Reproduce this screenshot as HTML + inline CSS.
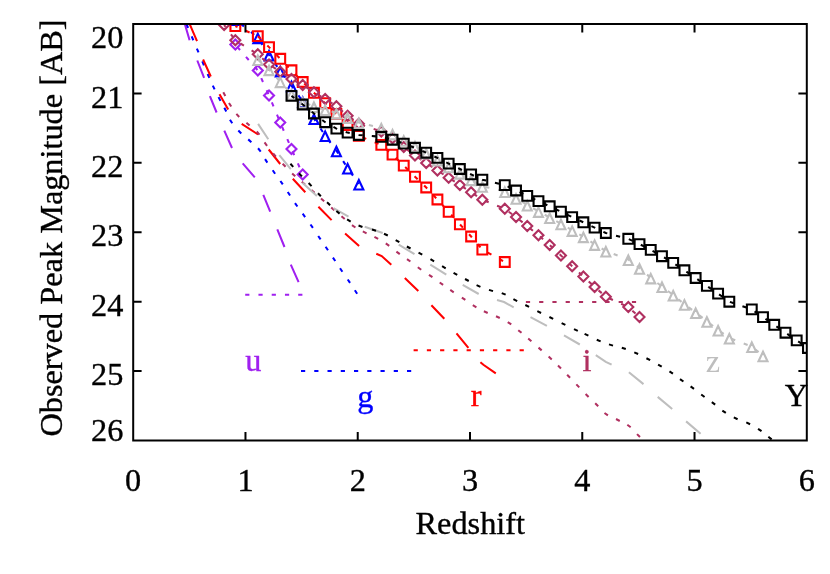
<!DOCTYPE html>
<html>
<head>
<meta charset="utf-8">
<title>Observed Peak Magnitude vs Redshift</title>
<style>
html,body{margin:0;padding:0;background:#fff;}
body{width:830px;height:574px;overflow:hidden;font-family:"Liberation Serif",serif;}
svg{display:block;opacity:0.999;will-change:transform;}
</style>
</head>
<body>
<svg width="830" height="574" viewBox="0 0 830 574">
<defs><clipPath id="pc"><rect x="133.2" y="24" width="673.6" height="416.5"/></clipPath></defs>
<rect width="830" height="574" fill="#fff"/>
<g clip-path="url(#pc)">
<path d="M184.8 23.9 L189.6 40.2 M197.3 60.5 L204.1 77.8 M209.9 96.1 L216.6 112.5 M224.3 130.6 L232 148 M242.7 163.4 L254.8 177.4 M263.3 194.8 L270.2 211.6 M277.3 229.3 L284.5 247 M290.8 264.7 L298.6 282.1" fill="none" stroke="#a020f0" stroke-width="2.05"/>
<path d="M245.2 294.8 H302.5" fill="none" stroke="#a020f0" stroke-width="2.05" stroke-dasharray="4.2 9.05"/>
<path d="M235.34 44.6 L257.8 70.4 L269.02 95.6 L280.25 122.5 L291.48 148.9 L302.71 174.4" fill="none" stroke="#a020f0" stroke-width="2.05" stroke-dasharray="4.2 9.05" stroke-dashoffset="10.29"/>
<path d="M235.34 39.6L240.34 44.6L235.34 49.6L230.34 44.6z M257.8 65.4L262.8 70.4L257.8 75.4L252.8 70.4z M269.02 90.6L274.02 95.6L269.02 100.6L264.02 95.6z M280.25 117.5L285.25 122.5L280.25 127.5L275.25 122.5z M291.48 143.9L296.48 148.9L291.48 153.9L286.48 148.9z M302.71 169.4L307.71 174.4L302.71 179.4L297.71 174.4z" fill="none" stroke="#a020f0" stroke-width="2.1" stroke-linejoin="miter"/>
<path d="M186.48 24.07 L188.12 27.93 M191.68 36.37 L193.32 40.23 M196.88 48.57 L198.52 52.43 M202.28 61.47 L203.92 65.33 M207.65 73.98 L209.35 77.82 M212.8 85.6 L214.6 89.4 M218.52 97.14 L220.48 100.86 M224.34 107.73 L226.26 111.47 M229.96 119.74 L232.24 123.26 M238.34 130.49 L241.26 133.51 M248.25 139.38 L251.35 142.22 M258.07 148.27 L260.73 151.53 M265.05 159.14 L267.35 162.66 M272.69 170.28 L275.11 173.72 M280.41 180.97 L282.79 184.43 M287.74 192.05 L290.06 195.55 M295 203.08 L297.4 206.52 M302.67 213.7 L305.13 217.1 M310.5 224.48 L312.9 227.92 M318.22 235.96 L320.58 239.44 M325.62 246.76 L327.98 250.24 M332.93 257.56 L335.27 261.04 M340.02 268.26 L342.38 271.74 M347.73 279.46 L350.07 282.94 M354.85 290.25 L357.15 293.75" fill="none" stroke="#0000ff" stroke-width="2.05"/>
<path d="M301 370.9 H412" fill="none" stroke="#0000ff" stroke-width="2.05" stroke-dasharray="4.2 9.05"/>
<path d="M235.34 19.4 L257.8 37.6 L269.02 55 L280.25 71 L291.48 85.7 L302.71 101.5 L313.93 118.5 L325.16 135.5 L336.39 150.7 L347.61 168 L358.84 184" fill="none" stroke="#0000ff" stroke-width="2.05" stroke-dasharray="4.2 9.05" stroke-dashoffset="6.38"/>
<path d="M235.34 15.43L239.84 24.93L230.84 24.93z M257.8 33.63L262.3 43.13L253.3 43.13z M269.02 51.03L273.52 60.53L264.52 60.53z M280.25 67.03L284.75 76.53L275.75 76.53z M291.48 81.73L295.98 91.23L286.98 91.23z M302.71 97.53L307.21 107.03L298.21 107.03z M313.93 114.53L318.43 124.03L309.43 124.03z M325.16 131.53L329.66 141.03L320.66 141.03z M336.39 146.73L340.89 156.23L331.89 156.23z M347.61 164.03L352.11 173.53L343.11 173.53z M358.84 180.03L363.34 189.53L354.34 189.53z" fill="none" stroke="#0000ff" stroke-width="2.1" stroke-linejoin="miter" stroke-miterlimit="10"/>
<path d="M189.6 23.9 L197 41.2 M203.1 59.5 L210.8 76.5 M219.5 94.2 L228.2 109.6 M241.7 123.9 L258.1 134.5 M268.7 149.5 L280.2 164 M292.8 178.8 L305.3 192.3 M318.4 206.7 L331.6 220.1 M345.1 233.6 L359.1 246.1 M376.3 253.8 L381.7 256.1 L391.3 264.8 M404.8 278 L418.3 291.1 M431.4 305.3 L444.3 318.8 M456.5 333.3 L468.4 347.9 M480.4 362.2 L483.4 364.8 L495.8 373.3" fill="none" stroke="#ff0000" stroke-width="2.05"/>
<path d="M413.6 350.3 H524" fill="none" stroke="#ff0000" stroke-width="2.05" stroke-dasharray="4.2 9.05"/>
<path d="M235.34 26.1 L257.8 36.1 L269.02 47.1 L280.25 58.8 L291.48 70.3 L302.71 82 L313.93 92.8 L325.16 103.2 L336.39 114 L347.61 125 L358.84 135.9 L381.29 144.9 L392.52 154.6 L403.75 165.6 L414.98 176.7 L426.2 187.5 L437.43 199.5 L448.66 211.8 L459.88 224.3 L471.11 236.5 L482.34 249.6 L504.79 262" fill="none" stroke="#ff0000" stroke-width="2.05" stroke-dasharray="4.2 9.05" stroke-dashoffset="1.84"/>
<path d="M230.44 21.2h9.8v9.8h-9.8z M252.9 31.2h9.8v9.8h-9.8z M264.12 42.2h9.8v9.8h-9.8z M275.35 53.9h9.8v9.8h-9.8z M286.58 65.4h9.8v9.8h-9.8z M297.81 77.1h9.8v9.8h-9.8z M309.03 87.9h9.8v9.8h-9.8z M320.26 98.3h9.8v9.8h-9.8z M331.49 109.1h9.8v9.8h-9.8z M342.71 120.1h9.8v9.8h-9.8z M353.94 131h9.8v9.8h-9.8z M376.39 140h9.8v9.8h-9.8z M387.62 149.7h9.8v9.8h-9.8z M398.85 160.7h9.8v9.8h-9.8z M410.08 171.8h9.8v9.8h-9.8z M421.3 182.6h9.8v9.8h-9.8z M432.53 194.6h9.8v9.8h-9.8z M443.76 206.9h9.8v9.8h-9.8z M454.98 219.4h9.8v9.8h-9.8z M466.21 231.6h9.8v9.8h-9.8z M477.44 244.7h9.8v9.8h-9.8z M499.89 257.1h9.8v9.8h-9.8z" fill="none" stroke="#ff0000" stroke-width="2.1" stroke-linejoin="miter"/>
<path d="M223.29 92.36 L225.31 96.04 M228.97 103.03 L231.23 106.57 M236.38 113.86 L239.22 116.94 M246.42 122.82 L249.58 125.58 M256.7 131.53 L259.5 134.67 M264.54 142.42 L267.06 145.78 M273.13 153.51 L275.87 156.69 M282.64 163.79 L285.56 166.81 M292.16 173.47 L295.24 176.33 M301.81 181.83 L304.99 184.57 M311.41 190.13 L314.59 192.87 M321.02 198.42 L324.18 201.18 M331.21 207.42 L334.39 210.18 M341.49 216.25 L344.71 218.95 M351.97 225.11 L355.43 227.49 M362.83 231.45 L366.57 233.35 M374.45 236.81 L378.15 238.79 M385.77 243.4 L389.23 245.8 M396.41 251.65 L399.79 254.15 M407 259.06 L410.4 261.54 M417.79 267.28 L421.21 269.72 M428.97 274.8 L432.43 277.2 M439.69 282.49 L443.11 284.91 M450.26 289.92 L453.74 292.28 M461.86 297.63 L465.34 299.97 M472.8 305.22 L476.4 307.38 M483.89 311.22 L487.71 312.98 M496 316.2 L499.8 318 M507.74 322.15 L511.26 324.45 M518.27 330.17 L521.53 332.83 M528.21 338.52 L531.39 341.28 M538.53 347.61 L541.67 350.39 M548.66 356.57 L551.74 359.43 M558.01 365.52 L560.99 368.48 M567.14 374.79 L570.06 377.81 M576.34 384.39 L579.26 387.41 M585.62 394.02 L588.58 396.98 M595.2 403.33 L598.2 406.27 M604.49 412.98 L607.91 415.42 M616.03 419.03 L619.77 420.97 M627.33 424.73 L630.67 427.27 M637.02 434.11 L639.98 437.09" fill="none" stroke="#b03060" stroke-width="2.05"/>
<path d="M525.9 301.9 H636.5" fill="none" stroke="#b03060" stroke-width="2.05" stroke-dasharray="4.2 9.05"/>
<path d="M224.12 25 L235.34 40.2 L257.8 54.3 L269.02 64.4 L280.25 71.8 L291.48 79 L302.71 85 L313.93 92.2 L325.16 99 L336.39 106.2 L347.61 115.7 L358.84 123.8 L381.29 131.5 L392.52 138.3 L403.75 147 L414.98 155.5 L426.2 162.9 L437.43 170.6 L448.66 177.7 L459.88 185 L471.11 192.2 L482.34 199.7 L504.79 208.8 L516.02 217.1 L527.25 226.1 L538.47 235.3 L549.7 245.1 L560.93 255.4 L572.15 266.3 L583.38 276.5 L594.61 286.9 L605.83 296.7 L628.29 307.1 L639.51 317" fill="none" stroke="#b03060" stroke-width="2.05" stroke-dasharray="4.2 9.07" stroke-dashoffset="1.74"/>
<path d="M224.12 20L229.12 25L224.12 30L219.12 25z M235.34 35.2L240.34 40.2L235.34 45.2L230.34 40.2z M257.8 49.3L262.8 54.3L257.8 59.3L252.8 54.3z M269.02 59.4L274.02 64.4L269.02 69.4L264.02 64.4z M280.25 66.8L285.25 71.8L280.25 76.8L275.25 71.8z M291.48 74L296.48 79L291.48 84L286.48 79z M302.71 80L307.71 85L302.71 90L297.71 85z M313.93 87.2L318.93 92.2L313.93 97.2L308.93 92.2z M325.16 94L330.16 99L325.16 104L320.16 99z M336.39 101.2L341.39 106.2L336.39 111.2L331.39 106.2z M347.61 110.7L352.61 115.7L347.61 120.7L342.61 115.7z M358.84 118.8L363.84 123.8L358.84 128.8L353.84 123.8z M381.29 126.5L386.29 131.5L381.29 136.5L376.29 131.5z M392.52 133.3L397.52 138.3L392.52 143.3L387.52 138.3z M403.75 142L408.75 147L403.75 152L398.75 147z M414.98 150.5L419.98 155.5L414.98 160.5L409.98 155.5z M426.2 157.9L431.2 162.9L426.2 167.9L421.2 162.9z M437.43 165.6L442.43 170.6L437.43 175.6L432.43 170.6z M448.66 172.7L453.66 177.7L448.66 182.7L443.66 177.7z M459.88 180L464.88 185L459.88 190L454.88 185z M471.11 187.2L476.11 192.2L471.11 197.2L466.11 192.2z M482.34 194.7L487.34 199.7L482.34 204.7L477.34 199.7z M504.79 203.8L509.79 208.8L504.79 213.8L499.79 208.8z M516.02 212.1L521.02 217.1L516.02 222.1L511.02 217.1z M527.25 221.1L532.25 226.1L527.25 231.1L522.25 226.1z M538.47 230.3L543.47 235.3L538.47 240.3L533.47 235.3z M549.7 240.1L554.7 245.1L549.7 250.1L544.7 245.1z M560.93 250.4L565.93 255.4L560.93 260.4L555.93 255.4z M572.15 261.3L577.15 266.3L572.15 271.3L567.15 266.3z M583.38 271.5L588.38 276.5L583.38 281.5L578.38 276.5z M594.61 281.9L599.61 286.9L594.61 291.9L589.61 286.9z M605.83 291.7L610.83 296.7L605.83 301.7L600.83 296.7z M628.29 302.1L633.29 307.1L628.29 312.1L623.29 307.1z M639.51 312L644.51 317L639.51 322L634.51 317z" fill="none" stroke="#b03060" stroke-width="2.1" stroke-linejoin="miter"/>
<path d="M258.1 123.9 L268.3 139.3 M279.3 155.1 L290.8 169.2 M302.4 182.7 L316.9 196.1 M333.5 208.2 L348.5 216.6 M364.7 226.8 L382.7 233 M398.7 244.6 L414.5 254.2 M430.3 264.6 L446.3 274.6 M462.7 284.9 L478.7 294 M497 300.1 L504.1 302 L513.7 307.4 M530.5 317.1 L546.9 325.8 M564 335.4 L579.8 344.5 M595.8 355.1 L605.8 361.8 L611.6 364.7 M628.9 372.2 L643.5 384.1 M657.7 396.9 L672.2 409 M686.1 421.4 L700.6 433.7" fill="none" stroke="#bebebe" stroke-width="2.05"/>
<path d="M257.8 59.5 L269.02 69.6 L280.25 81.6 L291.48 94 L302.71 102 L313.93 106.4 L325.16 109.5 L336.39 113.1 L347.61 117.5 L358.84 122.6 L381.29 127.9 L392.52 133.8 L403.75 140.2 L414.98 146 L426.2 153 L437.43 160 L448.66 166.7 L459.88 173.1 L471.11 179.6 L482.34 186.2 L504.79 191.4 L516.02 198.2 L527.25 204.9 L538.47 211.3 L549.7 217.5 L560.93 223.7 L572.15 230.3 L583.38 236.6 L594.61 244.3 L605.83 251 L628.29 259.5 L639.51 268.2 L650.74 277.8 L661.97 286.5 L673.2 295 L684.42 304.2 L695.65 312.4 L706.88 321.2 L718.1 329.9 L729.33 338 L751.79 346.5 L763.01 355.7" fill="none" stroke="#bebebe" stroke-width="2.05" stroke-dasharray="4.2 9.05" stroke-dashoffset="0.27"/>
<path d="M257.8 55.53L262.3 65.03L253.3 65.03z M269.02 65.63L273.52 75.13L264.52 75.13z M280.25 77.63L284.75 87.13L275.75 87.13z M291.48 90.03L295.98 99.53L286.98 99.53z M302.71 98.03L307.21 107.53L298.21 107.53z M313.93 102.43L318.43 111.93L309.43 111.93z M325.16 105.53L329.66 115.03L320.66 115.03z M336.39 109.13L340.89 118.63L331.89 118.63z M347.61 113.53L352.11 123.03L343.11 123.03z M358.84 118.63L363.34 128.13L354.34 128.13z M381.29 123.93L385.79 133.43L376.79 133.43z M392.52 129.83L397.02 139.33L388.02 139.33z M403.75 136.23L408.25 145.73L399.25 145.73z M414.98 142.03L419.48 151.53L410.48 151.53z M426.2 149.03L430.7 158.53L421.7 158.53z M437.43 156.03L441.93 165.53L432.93 165.53z M448.66 162.73L453.16 172.23L444.16 172.23z M459.88 169.13L464.38 178.63L455.38 178.63z M471.11 175.63L475.61 185.13L466.61 185.13z M482.34 182.23L486.84 191.73L477.84 191.73z M504.79 187.43L509.29 196.93L500.29 196.93z M516.02 194.23L520.52 203.73L511.52 203.73z M527.25 200.93L531.75 210.43L522.75 210.43z M538.47 207.33L542.97 216.83L533.97 216.83z M549.7 213.53L554.2 223.03L545.2 223.03z M560.93 219.73L565.43 229.23L556.43 229.23z M572.15 226.33L576.65 235.83L567.65 235.83z M583.38 232.63L587.88 242.13L578.88 242.13z M594.61 240.33L599.11 249.83L590.11 249.83z M605.83 247.03L610.33 256.53L601.33 256.53z M628.29 255.53L632.79 265.03L623.79 265.03z M639.51 264.23L644.01 273.73L635.01 273.73z M650.74 273.83L655.24 283.33L646.24 283.33z M661.97 282.53L666.47 292.03L657.47 292.03z M673.2 291.03L677.7 300.53L668.7 300.53z M684.42 300.23L688.92 309.73L679.92 309.73z M695.65 308.43L700.15 317.93L691.15 317.93z M706.88 317.23L711.38 326.73L702.38 326.73z M718.1 325.93L722.6 335.43L713.6 335.43z M729.33 334.03L733.83 343.53L724.83 343.53z M751.79 342.53L756.29 352.03L747.29 352.03z M763.01 351.73L767.51 361.23L758.51 361.23z" fill="none" stroke="#bebebe" stroke-width="2.1" stroke-linejoin="miter" stroke-miterlimit="10"/>
<path d="M290.39 163.74 L293.21 166.86 M299.06 173.38 L301.94 176.42 M308.65 183.08 L311.55 186.12 M317.94 193.29 L320.86 196.31 M327.07 202.36 L330.13 205.24 M336.38 210.97 L339.62 213.63 M347.12 219.39 L350.68 221.61 M358.54 225.55 L362.46 227.05 M372 229.45 L376 230.75 M384 233.71 L387.8 235.49 M395.67 240.07 L399.33 242.13 M406.86 246.49 L410.54 248.51 M418.55 252.6 L422.25 254.6 M430.49 259.14 L434.11 261.26 M442.09 266.23 L445.71 268.37 M453.56 272.78 L457.24 274.82 M465.04 279.02 L468.76 280.98 M476.57 285.16 L480.43 286.84 M489 289.87 L493 291.13 M501.75 293.13 L505.65 294.67 M513.43 299.14 L517.17 301.06 M525.32 304.96 L529.08 306.84 M537.32 311.16 L541.08 313.04 M549.41 316.98 L553.19 318.82 M561.62 323.07 L565.38 324.93 M574 329.11 L577.8 330.89 M584.6 333.91 L588.4 335.69 M596.76 339.79 L600.64 341.41 M608.99 344.38 L613.01 345.62 M621.8 347.75 L625.8 349.05 M634.28 352.35 L638.12 354.05 M646.44 358.23 L650.16 360.17 M658.08 364.55 L661.72 366.65 M669.46 371.33 L672.94 373.67 M679.99 379.08 L683.41 381.52 M690.6 386.37 L694 388.83 M701.22 394.45 L704.58 396.95 M711.82 402.13 L715.18 404.67 M722.36 410.53 L725.84 412.87 M733.81 417.39 L737.59 419.21 M746.31 422.38 L750.09 424.22 M758.06 428.82 L761.54 431.18 M768.36 436.79 L771.64 439.41" fill="none" stroke="#000000" stroke-width="2.05"/>
<path d="M291.48 95.9 L302.71 104.5 L313.93 113.5 L325.16 122.2 L336.39 128.6 L347.61 132.6 L358.84 135 L381.29 136.8 L392.52 139.7 L403.75 143.6 L414.98 147.8 L426.2 152.7 L437.43 157.9 L448.66 163.6 L459.88 169 L471.11 174.4 L482.34 179.7 L504.79 185.1 L516.02 190.5 L527.25 195.9 L538.47 201.1 L549.7 206.3 L560.93 211.7 L572.15 217.1 L583.38 222.3 L594.61 227.6 L605.83 233 L628.29 238.8 L639.51 244.1 L650.74 249.9 L661.97 256.2 L673.2 262.9 L684.42 270.3 L695.65 278 L706.88 285.9 L718.1 293.6 L729.33 301.7 L751.79 309.4 L763.01 317.1 L774.24 324.8 L785.47 332.7 L796.69 340.4 L807.92 348" fill="none" stroke="#000000" stroke-width="2.05" stroke-dasharray="4.2 9.05" stroke-dashoffset="0.7"/>
<path d="M286.58 91h9.8v9.8h-9.8z M297.81 99.6h9.8v9.8h-9.8z M309.03 108.6h9.8v9.8h-9.8z M320.26 117.3h9.8v9.8h-9.8z M331.49 123.7h9.8v9.8h-9.8z M342.71 127.7h9.8v9.8h-9.8z M353.94 130.1h9.8v9.8h-9.8z M376.39 131.9h9.8v9.8h-9.8z M387.62 134.8h9.8v9.8h-9.8z M398.85 138.7h9.8v9.8h-9.8z M410.08 142.9h9.8v9.8h-9.8z M421.3 147.8h9.8v9.8h-9.8z M432.53 153h9.8v9.8h-9.8z M443.76 158.7h9.8v9.8h-9.8z M454.98 164.1h9.8v9.8h-9.8z M466.21 169.5h9.8v9.8h-9.8z M477.44 174.8h9.8v9.8h-9.8z M499.89 180.2h9.8v9.8h-9.8z M511.12 185.6h9.8v9.8h-9.8z M522.35 191h9.8v9.8h-9.8z M533.57 196.2h9.8v9.8h-9.8z M544.8 201.4h9.8v9.8h-9.8z M556.03 206.8h9.8v9.8h-9.8z M567.25 212.2h9.8v9.8h-9.8z M578.48 217.4h9.8v9.8h-9.8z M589.71 222.7h9.8v9.8h-9.8z M600.93 228.1h9.8v9.8h-9.8z M623.39 233.9h9.8v9.8h-9.8z M634.62 239.2h9.8v9.8h-9.8z M645.84 245h9.8v9.8h-9.8z M657.07 251.3h9.8v9.8h-9.8z M668.3 258h9.8v9.8h-9.8z M679.52 265.4h9.8v9.8h-9.8z M690.75 273.1h9.8v9.8h-9.8z M701.98 281h9.8v9.8h-9.8z M713.2 288.7h9.8v9.8h-9.8z M724.43 296.8h9.8v9.8h-9.8z M746.89 304.5h9.8v9.8h-9.8z M758.11 312.2h9.8v9.8h-9.8z M769.34 319.9h9.8v9.8h-9.8z M780.57 327.8h9.8v9.8h-9.8z M791.79 335.5h9.8v9.8h-9.8z M803.02 343.1h9.8v9.8h-9.8z" fill="none" stroke="#000000" stroke-width="2.1" stroke-linejoin="miter"/>
</g>
<rect x="133.2" y="24" width="673.6" height="416.5" fill="none" stroke="#000" stroke-width="2.0"/>
<path d="M245.47 440.5v-8.4 M245.47 24v8.4 M357.73 440.5v-8.4 M357.73 24v8.4 M470 440.5v-8.4 M470 24v8.4 M582.27 440.5v-8.4 M582.27 24v8.4 M694.53 440.5v-8.4 M694.53 24v8.4 M133.2 93.42h8.4 M806.8 93.42h-8.4 M133.2 162.83h8.4 M806.8 162.83h-8.4 M133.2 232.25h8.4 M806.8 232.25h-8.4 M133.2 301.67h8.4 M806.8 301.67h-8.4 M133.2 371.08h8.4 M806.8 371.08h-8.4" fill="none" stroke="#000" stroke-width="2.0"/>
<g font-family="'Liberation Serif', serif" font-size="32.3" fill="#000" stroke="#000" stroke-width="0.35">
<text x="133.2" y="491" text-anchor="middle">0</text>
<text x="245.47" y="491" text-anchor="middle">1</text>
<text x="357.73" y="491" text-anchor="middle">2</text>
<text x="470" y="491" text-anchor="middle">3</text>
<text x="582.27" y="491" text-anchor="middle">4</text>
<text x="694.53" y="491" text-anchor="middle">5</text>
<text x="806.8" y="491" text-anchor="middle">6</text>
<text x="123.4" y="47.6" text-anchor="end">20</text>
<text x="123.4" y="107.62" text-anchor="end">21</text>
<text x="123.4" y="177.03" text-anchor="end">22</text>
<text x="123.4" y="246.45" text-anchor="end">23</text>
<text x="123.4" y="315.87" text-anchor="end">24</text>
<text x="123.4" y="385.28" text-anchor="end">25</text>
<text x="123.4" y="441" text-anchor="end">26</text>
<text x="470.3" y="534" text-anchor="middle">Redshift</text>
<text transform="translate(61.8 228) rotate(-90)" text-anchor="middle">Observed Peak Magnitude [AB]</text>
</g>
<g font-family="'Liberation Serif', serif" font-size="32.3">
<text x="245.2" y="371.4" fill="#a020f0" stroke="#a020f0" stroke-width="0.35">u</text>
<text x="357.2" y="406.7" fill="#0000ff" stroke="#0000ff" stroke-width="0.35">g</text>
<text x="470.8" y="406.2" fill="#ff0000" stroke="#ff0000" stroke-width="0.35">r</text>
<text x="582.6" y="371.4" fill="#b03060" stroke="#b03060" stroke-width="0.35">i</text>
<text x="705.8" y="371.9" fill="#bebebe">z</text>
<text x="784.8" y="405.8" fill="#000000" stroke="#000000" stroke-width="0.35">Y</text>
</g>
</svg>
</body>
</html>
